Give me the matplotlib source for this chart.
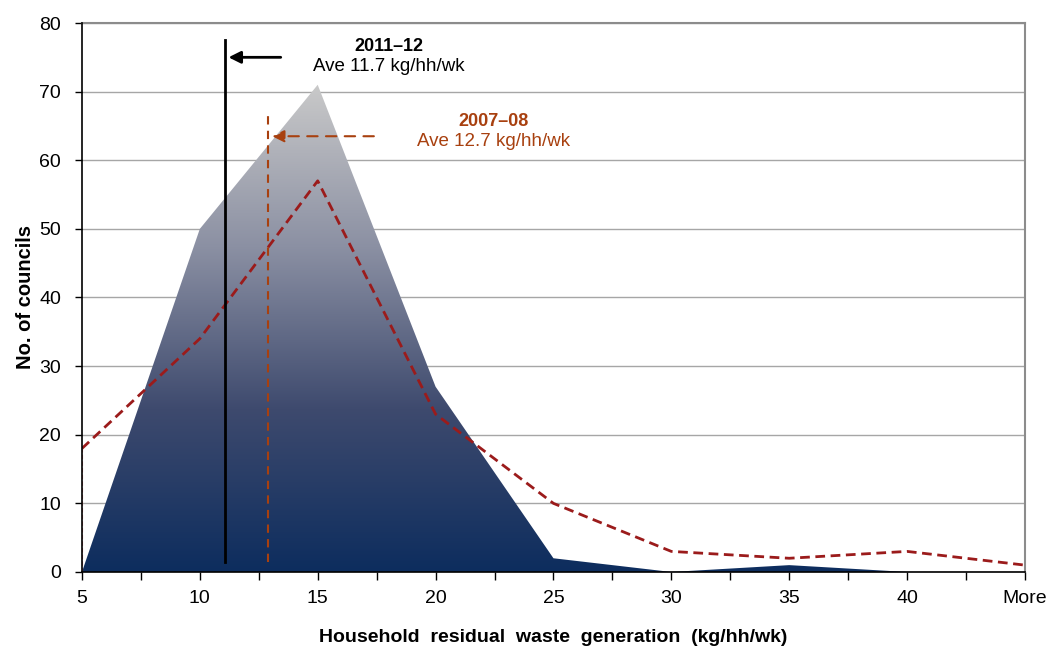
import matplotlib
matplotlib.use("Agg")
import matplotlib.pyplot as plt
import numpy as np
from matplotlib.colors import LinearSegmentedColormap

plt.rcParams['font.family'] = ['Liberation Sans', 'DejaVu Sans']

categories = ['5', '10', '15', '20', '25', '30', '35', '40', 'More']
councils_2011 = [0, 50, 71, 27, 2, 0, 1, 0, 0]
councils_2007 = [18, 34, 57, 23, 10, 3, 2, 3, 1]
ave_2011 = 11.7
ave_2007 = 12.7
ave_2011_pos = 1.21   # position on the category axis
ave_2007_pos = 1.58

fig = plt.figure(figsize=(10.48, 6.48), dpi=100)
ax = fig.add_axes([0.0782, 0.1173, 0.8998, 0.8472])

x = np.arange(len(categories))

# gradient-filled area
cmap = LinearSegmentedColormap.from_list('g', ['#0d2d5e', '#3e4a6e', '#8b90a3', '#c9c9c9'])
poly = ax.fill_between(x, 0, councils_2011, color='none', lw=0)
ymax = max(councils_2011)
grad = np.linspace(0, 1, 256).reshape(-1, 1)
im = ax.imshow(grad, cmap=cmap, origin='lower', aspect='auto',
               extent=[0, len(categories) - 1, 0, ymax], zorder=2)
path = poly.get_paths()[0]
im.set_clip_path(path, transform=ax.transData)

# 2007-08 dashed line
ax.plot(x, councils_2007, color='#9b1b1b', lw=2, ls=(0, (3.5, 2)), zorder=4)
ax.plot([0, 0], [0, councils_2007[0]], color='#e08080', lw=0.8, ls=(0, (4, 2)), zorder=4)
ax.plot([0, len(categories) - 1], [0, 0], color='#e08080', lw=0.8, ls=(0, (4, 2)), zorder=4)
ax.plot([len(categories) - 1] * 2, [0, councils_2007[-1]], color='#e08080', lw=0.8, ls=(0, (4, 2)), zorder=4)

# average lines
ax.plot([ave_2011_pos, ave_2011_pos], [1.5, 77.5], color='black', lw=2, zorder=5)
ax.annotate('', xy=(ave_2011_pos + 0.01, 75), xytext=(ave_2011_pos + 0.5, 75),
            arrowprops=dict(arrowstyle='-|>', color='black', lw=2, mutation_scale=18), zorder=6)
ax.text(2.6, 76.6, '2011–12', ha='center', va='center', fontsize=13, fontweight='bold', color='black')
ax.text(2.6, 73.7, f'Ave {ave_2011} kg/hh/wk', ha='center', va='center', fontsize=13.5, color='black')

c07 = '#a8400f'
ax.plot([ave_2007_pos, ave_2007_pos], [1.5, 66.5], color=c07, lw=1.5, ls=(0, (4, 3)), zorder=5)
ax.annotate('', xy=(ave_2007_pos + 0.01, 63.5), xytext=(ave_2007_pos + 0.92, 63.5),
            arrowprops=dict(arrowstyle='-|>', color=c07, lw=1.5, ls=(0, (5, 4)), mutation_scale=18), zorder=6)
ax.text(3.49, 65.7, '2007–08', ha='center', va='center', fontsize=13, fontweight='bold', color=c07)
ax.text(3.49, 62.8, f'Ave {ave_2007} kg/hh/wk', ha='center', va='center', fontsize=13.5, color=c07)

ax.set_xlim(0, len(categories) - 1)
ax.set_ylim(0, 80)
ax.set_xticks(x)
ax.set_xticklabels(categories, fontsize=14)
ax.set_xticks(np.arange(0.5, len(categories) - 1, 1), minor=True)
ax.set_yticks(np.arange(0, 81, 10))
ax.tick_params(axis='y', labelsize=14, direction='out', length=5, width=1, pad=10)
ax.tick_params(axis='x', which='both', direction='out', length=6, width=1, pad=7)
ax.yaxis.grid(True, color='#a6a6a6', lw=1, zorder=0)
ax.set_axisbelow(True)

for s in ['top', 'right']:
    ax.spines[s].set_color('#8c8c8c')
    ax.spines[s].set_linewidth(1.5)
for s in ['left', 'bottom']:
    ax.spines[s].set_color('black')
    ax.spines[s].set_linewidth(1.2)
    ax.spines[s].set_zorder(7)

ax.set_ylabel('No. of councils', fontsize=14.5, fontweight='bold', labelpad=3)
ax.set_xlabel('Household  residual  waste  generation  (kg/hh/wk)', fontsize=14, fontweight='bold', labelpad=16)

fig.savefig('out.png', dpi=100)
